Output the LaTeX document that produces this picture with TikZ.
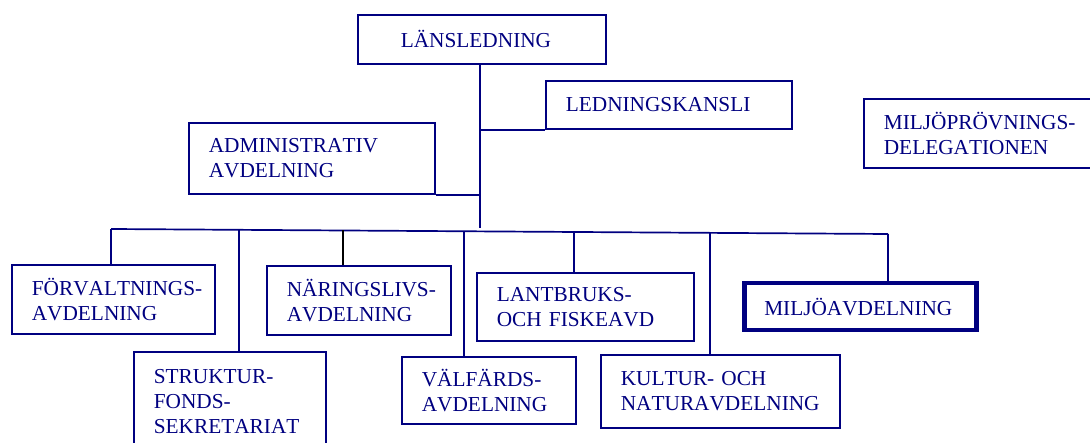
\documentclass[tikz,border=0pt]{standalone}
\usepackage{fontspec}
\setmainfont{Liberation Serif}[Kerning=Off]
\usepackage{tikz}
\definecolor{navy}{RGB}{0,0,128}
\hyphenpenalty=10000
\exhyphenpenalty=10000

\begin{document}
\begin{tikzpicture}[x=1pt,y=-1pt,
  dept/.style={draw=navy,line width=1.7pt,text=navy,anchor=north west,align=left,
    inner xsep=20pt,inner ysep=0pt,font=\fontsize{21.3}{25}\selectfont},
  link/.style={navy,line width=1.7pt}]
\useasboundingbox (0,0) rectangle (1090,443);
\clip (0,0) rectangle (1090,443);

\node[dept,inner xsep=43pt,text width=162pt,minimum height=49pt] (lans) at (357,14) {LÄNSLEDNING};
\node[dept,text width=206pt,minimum height=48pt] (kansli) at (545,80) {LEDNINGSKANSLI};
\node[dept,text width=206pt,minimum height=71pt] (admin) at (188,122) {ADMINISTRATIV\\AVDELNING};
\node[dept,text width=210pt,minimum height=69pt] (deleg) at (863,98) {MILJÖPRÖVNINGS-\\DELEGATIONEN};

\node[dept,text width=163pt,minimum height=69pt] (forv) at (11,264) {FÖRVALTNINGS-\\AVDELNING};
\node[dept,text width=152pt,minimum height=100pt] (strukt) at (133,351) {STRUKTUR-\\FONDS-\\SEKRETARIAT};
\node[dept,text width=144pt,minimum height=69pt] (nar) at (266,265) {NÄRINGSLIVS-\\AVDELNING};
\node[dept,text width=134pt,minimum height=67pt] (valf) at (401,356) {VÄLFÄRDS-\\AVDELNING};
\node[dept,text width=177pt,minimum height=68pt] (lant) at (476,272) {LANTBRUKS-\\OCH FISKEAVD};
\node[dept,text width=199pt,minimum height=73pt] (kult) at (600,354) {KULTUR- OCH\\NATURAVDELNING};
\node[dept,line width=4.5pt,text width=192pt,minimum height=47pt] (miljo) at (742,281) {MILJÖAVDELNING};

\coordinate (bT) at (480,228);
\coordinate (bL) at (111,229);
\coordinate (bR) at (888,234);
\coordinate (bS) at (239,229.8);
\coordinate (bN) at (343,230.5);
\coordinate (bV) at (464,231.3);
\coordinate (bA) at (574,232);
\coordinate (bK) at (710,232.9);

\draw[link] (lans.south -| bT) -- (bT);
\draw[link] (kansli.south west) -- (kansli.south west -| bT);
\draw[link] (admin.south east) -- (admin.south east -| bT);
\draw[link] (bL) -- (bR);
\draw[link] (bL) -- (bL |- forv.north);
\draw[link] (bS) -- (bS |- strukt.north);
\draw[link,black] (bN) -- (bN |- nar.north);
\draw[link] (bV) -- (bV |- valf.north);
\draw[link] (bA) -- (bA |- lant.north);
\draw[link] (bK) -- (bK |- kult.north);
\draw[link] (bR) -- (bR |- miljo.north);
\end{tikzpicture}
\end{document}
